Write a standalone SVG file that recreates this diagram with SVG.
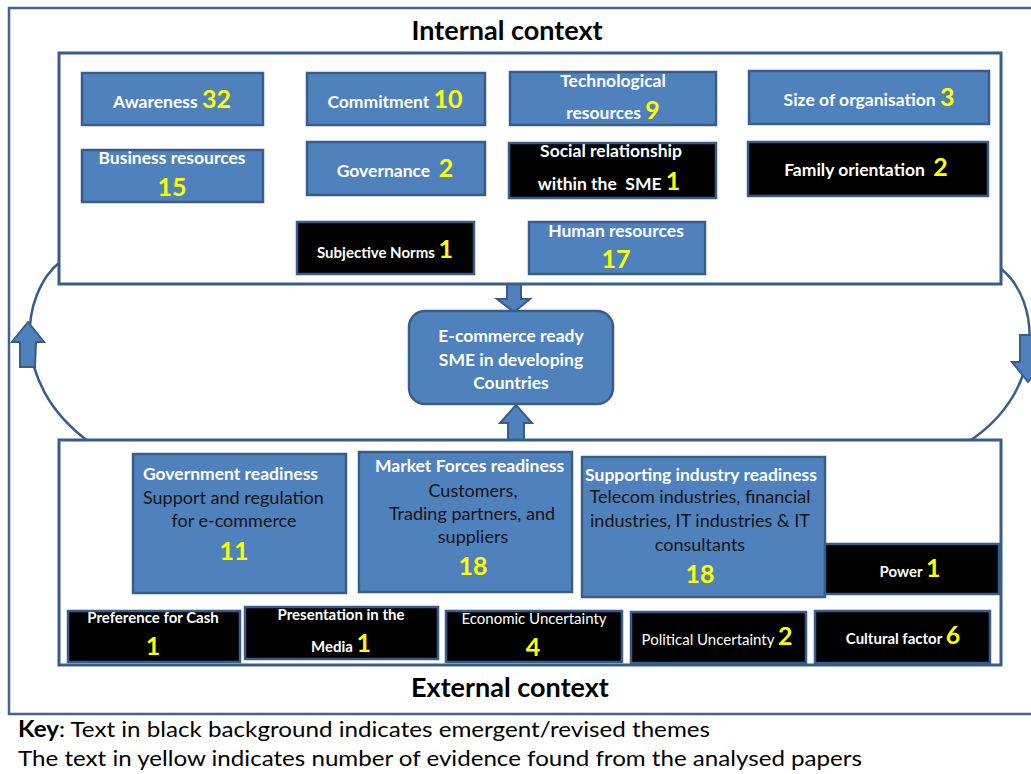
<svg xmlns="http://www.w3.org/2000/svg" width="1031" height="774" viewBox="0 0 1031 774">
<style>
.frame{fill:#fff;stroke:#3D6494;stroke-width:2.5}
.box{fill:#4F81BD;stroke:#385D8A;stroke-width:2.5}
.dark{fill:#000;stroke:#385D8A;stroke-width:2.5}
.arr{fill:#4F81BD;stroke:#385D8A;stroke-width:2}
.curve{fill:none;stroke:#385D8A;stroke-width:2.5}
text{font-family:Lato,"Liberation Sans",sans-serif}
.t{fill:#fff;font-weight:bold;font-size:17.5px}
.ts{fill:#fff;font-weight:bold;font-size:15px}
.tr{fill:#fff;font-size:15px}
.n{fill:#FFFF00;font-weight:bold;font-size:25px}
.b{fill:#151515;font-size:18px}
.title{fill:#000;font-weight:bold;font-size:27px}
.key{fill:#000;font-size:22px}
</style>
<rect class="frame" x="9" y="8" width="1034" height="706"/>
<text class="title" x="507" y="40" text-anchor="middle">Internal context</text>
<text class="title" x="510" y="697" text-anchor="middle">External context</text>

<g id="connectors">
  <path class="curve" d="M60 262 C22 292 8 382 88 441"/>
  <path class="curve" d="M1000 268 C1042 300 1046 392 968 442"/>
  <polygon class="arr" points="20,367 35,367 36,342 44,342 28,322 12,342 20,342"/>
  <polygon class="arr" points="1020,335 1036,335 1036,362 1044,362 1028,382 1012,362 1020,362"/>
  <polygon class="arr" points="507,284 521,284 521,299 530,299 514,312 497,299 507,299"/>
  <polygon class="arr" points="508,441 524,441 524,423 532,423 516,405 500,423 508,423"/>
</g>

<g id="internal">
  <rect class="frame" x="59" y="53" width="942" height="231" style="stroke:#385D8A;stroke-width:3"/>
</g>
<g id="external">
  <rect class="frame" x="59" y="440" width="942" height="225" style="stroke:#385D8A;stroke-width:3"/>
</g>

<g id="awareness"><rect class="box" x="82" y="73" width="181" height="52"/>
<text class="t" x="172" y="108" text-anchor="middle">Awareness <tspan class="n">32</tspan></text></g>
<g id="commitment"><rect class="box" x="307" y="73" width="178" height="52"/>
<text class="t" x="395" y="108" text-anchor="middle">Commitment <tspan class="n">10</tspan></text></g>
<g id="technological"><rect class="box" x="510" y="72" width="206" height="53"/>
<text class="t" x="613" y="87" text-anchor="middle">Technological</text>
<text class="t" x="613" y="119" text-anchor="middle">resources <tspan class="n">9</tspan></text></g>
<g id="size"><rect class="box" x="749" y="71" width="240" height="53"/>
<text class="t" x="869" y="106" text-anchor="middle">Size of organisation <tspan class="n">3</tspan></text></g>
<g id="business"><rect class="box" x="82" y="150" width="181" height="52"/>
<text class="t" x="172" y="164" text-anchor="middle">Business resources</text>
<text class="n" x="172" y="196" text-anchor="middle">15</text></g>
<g id="governance"><rect class="box" x="307" y="142" width="178" height="53"/>
<text class="t" x="395" y="177" text-anchor="middle">Governance&#160; <tspan class="n">2</tspan></text></g>
<g id="social"><rect class="dark" x="509" y="143" width="207" height="55"/>
<text class="t" x="611" y="157" text-anchor="middle">Social relationship</text>
<text class="t" x="609" y="190" text-anchor="middle">within the&#160; SME <tspan class="n">1</tspan></text></g>
<g id="family"><rect class="dark" x="748" y="142" width="240" height="54"/>
<text class="t" x="866" y="176" text-anchor="middle">Family orientation&#160; <tspan class="n">2</tspan></text></g>
<g id="subjective"><rect class="dark" x="297" y="222" width="177" height="52"/>
<text class="ts" x="385" y="258" text-anchor="middle">Subjective Norms <tspan class="n">1</tspan></text></g>
<g id="human"><rect class="box" x="529" y="222" width="176" height="52"/>
<text class="t" x="616" y="237" text-anchor="middle">Human resources</text>
<text class="n" x="616" y="268" text-anchor="middle">17</text></g>

<g id="center"><rect class="box" x="409" y="311" width="204" height="93" rx="16"/>
<text class="t" x="511" y="342" text-anchor="middle">E-commerce ready</text>
<text class="t" x="511" y="366" text-anchor="middle">SME in developing</text>
<text class="t" x="511" y="389" text-anchor="middle">Countries</text></g>

<g id="government"><rect class="box" x="133" y="454" width="213" height="139"/>
<text class="t" x="143" y="480">Government readiness</text>
<text class="b" x="143" y="504">Support and regulation</text>
<text class="b" x="234" y="527" text-anchor="middle">for e-commerce</text>
<text class="n" x="234" y="560" text-anchor="middle">11</text></g>
<g id="market"><rect class="box" x="359" y="452" width="213" height="140"/>
<text class="t" x="375" y="472">Market Forces readiness</text>
<text class="b" x="473" y="497" text-anchor="middle">Customers,</text>
<text class="b" x="472" y="520" text-anchor="middle">Trading partners, and</text>
<text class="b" x="473" y="543" text-anchor="middle">suppliers</text>
<text class="n" x="473" y="575" text-anchor="middle">18</text></g>
<g id="supporting"><rect class="box" x="582" y="457" width="243" height="140"/>
<text class="t" x="701" y="481" text-anchor="middle">Supporting industry readiness</text>
<text class="b" x="700" y="503" text-anchor="middle">Telecom industries, financial</text>
<text class="b" x="700" y="527" text-anchor="middle">industries, IT industries &amp; IT</text>
<text class="b" x="700" y="551" text-anchor="middle">consultants</text>
<text class="n" x="700" y="583" text-anchor="middle">18</text></g>
<g id="power"><rect class="dark" x="825" y="544" width="174" height="50"/>
<text class="ts" x="910" y="577" text-anchor="middle">Power <tspan class="n">1</tspan></text></g>
<g id="cash"><rect class="dark" x="68" y="611" width="172" height="51"/>
<text class="ts" x="153" y="623" text-anchor="middle">Preference for Cash</text>
<text class="n" x="153" y="655" text-anchor="middle">1</text></g>
<g id="media"><rect class="dark" x="245" y="607" width="193" height="52"/>
<text class="ts" x="341" y="620" text-anchor="middle">Presentation in the</text>
<text class="ts" x="341" y="652" text-anchor="middle">Media <tspan class="n">1</tspan></text></g>
<g id="economic"><rect class="dark" x="446" y="611" width="176" height="51"/>
<text class="tr" x="534" y="624" text-anchor="middle">Economic Uncertainty</text>
<text class="n" x="533" y="656" text-anchor="middle">4</text></g>
<g id="political"><rect class="dark" x="631" y="612" width="175" height="51"/>
<text class="tr" x="717" y="645" text-anchor="middle">Political Uncertainty <tspan class="n">2</tspan></text></g>
<g id="cultural"><rect class="dark" x="815" y="611" width="175" height="52"/>
<text class="ts" x="903" y="644" text-anchor="middle">Cultural factor <tspan class="n">6</tspan></text></g>

<text class="key" x="18" y="737" textLength="692" lengthAdjust="spacingAndGlyphs"><tspan font-weight="bold">Key</tspan>: Text in black background indicates emergent/revised themes</text>
<text class="key" x="18" y="766" textLength="844" lengthAdjust="spacingAndGlyphs">The text in yellow indicates number of evidence found from the analysed papers</text>
</svg>
